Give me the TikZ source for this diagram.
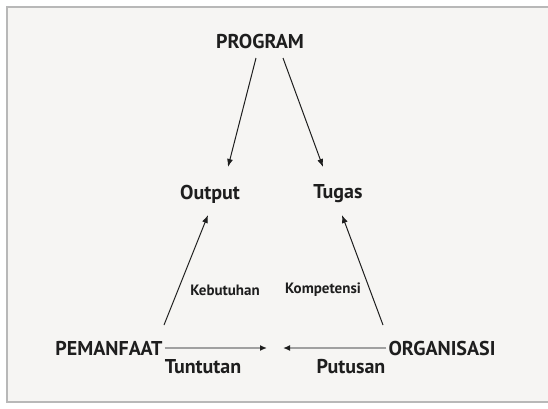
\documentclass[tikz,border=0pt]{standalone}
\usepackage{fontspec}
\setmainfont{PT Sans}
\usepackage{xcolor}
\usetikzlibrary{arrows.meta}
\definecolor{paper}{HTML}{F6F5F3}
\definecolor{frameg}{HTML}{B8B8B8}
\definecolor{ink}{HTML}{1E1E1E}
\definecolor{greyline}{HTML}{A0A0A0}
\tikzset{
  bigtext/.style={font=\bfseries\fontsize{20}{22}\selectfont, text=ink, inner sep=2pt},
  smalltext/.style={font=\bfseries\fontsize{15}{17}\selectfont, text=ink, inner sep=2pt},
  darr/.style={-{Latex[length=8pt, width=6pt]}, draw=ink, line width=1pt},
  garr/.style={-{Latex[length=7pt, width=6pt, color=ink]}, draw=greyline, line width=1.4pt}
}

\begin{document}
\begin{tikzpicture}[x=1pt, y=-1pt]
  \useasboundingbox (0,0) rectangle (548,408);
  % Frame
  \fill[paper] (7,7) rectangle (548,402);
  \draw[frameg, line width=2pt] (548,7) -- (7,7) -- (7,402) -- (548,402);

  % Labels
  \node[bigtext] (prog) at (260,41) {PROGRAM};
  \node[bigtext] (out) at (210,194) {Output};
  \node[bigtext] (tugas) at (338,194) {Tugas};
  \node[bigtext] (pem) at (109,348) {PEMANFAAT};
  \node[bigtext] (org) at (442,348) {ORGANISASI};
  \node[smalltext] (kebut) at (225,290) {Kebutuhan};
  \node[smalltext] (kompet) at (323,290) {Kompetensi};
  \node[bigtext] (tuntut) at (203,367) {Tuntutan};
  \node[bigtext] (putus) at (351,367) {Putusan};

  % Arrow ends
  \coordinate (progl) at (256,58);
  \coordinate (progr) at (283,58);
  \coordinate (outtip) at (228,167);
  \coordinate (tugtip) at (323,167);
  \coordinate (pemtop) at (164,325);
  \coordinate (orgtop) at (383,325);
  \coordinate (outbot) at (208,215);
  \coordinate (tugbot) at (342,215);
  \coordinate (midl) at (267,348);
  \coordinate (midr) at (283,348);

  % Program down
  \draw[darr] (progl) -- (outtip);
  \draw[darr] (progr) -- (tugtip);
  % Up to output and tugas
  \draw[darr] (pemtop) -- (outbot);
  \draw[darr] (orgtop) -- (tugbot);
  % Along the bottom
  \draw[garr] (pem.east) -- (midl);
  \draw[garr] (org.west) -- (midr);
\end{tikzpicture}
\end{document}
